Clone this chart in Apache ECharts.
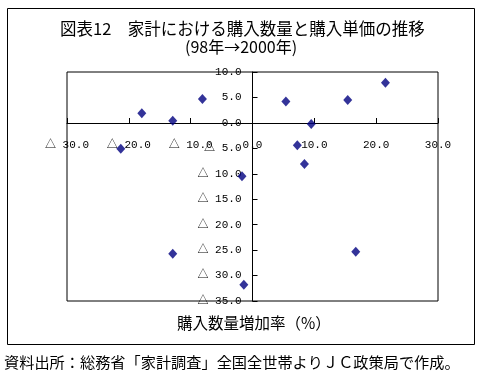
<!DOCTYPE html>
<html>
<head>
<meta charset="utf-8">
<script src="https://cdn.jsdelivr.net/npm/echarts@6/dist/echarts.min.js"></script>
<style>html,body{margin:0;padding:0;background:#fff;}#c{width:489px;height:373px;}</style>
</head>
<body>
<div id="c"></div>
<script>
const titleLine1 = '図表12　家計における購入数量と購入単価の推移';
const titleLine2 = '(98年→2000年)';
const xAxisName = '購入数量増加率（%）';
const footnote = '資料出所：総務省「家計調査」全国全世帯よりＪＣ政策局で作成。';
const quantityGrowth = [-17.9, -12.9, -8.1, 5.4, 9.5, 15.4, 21.5, -21.3, 7.25, 8.4, -1.7, -12.9, 16.7, -1.4];
const priceGrowth    = [1.9, 0.4, 4.7, 4.2, -0.2, 4.5, 7.9, -5.1, -4.4, -8.1, -10.5, -25.7, -25.3, -31.8];

const points = quantityGrowth.map((x, i) => [x, priceGrowth[i]]);
const fmt = v => v < 0 ? '△ ' + Math.abs(v).toFixed(1) : v.toFixed(1);
const labelFont = "'Liberation Mono', 'Noto Sans CJK JP', monospace";
const cjk = "'Noto Sans CJK JP', sans-serif";

const chart = echarts.init(document.getElementById('c'), null, {renderer: 'canvas'});
chart.setOption({
  animation: false,
  backgroundColor: '#fff',
  graphic: [
    {type: 'rect', shape: {x: 7.5, y: 8.5, width: 467, height: 336}, style: {fill: 'none', stroke: '#000', lineWidth: 1}, z: -1},
    {type: 'text', left: 60, top: 20, style: {text: titleLine1, font: '16.5px ' + cjk, fill: '#000'}},
    {type: 'text', left: 185, top: 39, style: {text: titleLine2, font: '16px ' + cjk, fill: '#000'}},
    {type: 'text', left: 177, top: 315, style: {text: xAxisName, font: '15.5px ' + cjk, fill: '#000'}},
    {type: 'text', left: 4, top: 355, style: {text: footnote, font: '15.2px ' + cjk, fill: '#000'}}
  ],
  grid: {left: 67, right: 51, top: 72, bottom: 72, show: true, borderColor: '#000', borderWidth: 1, backgroundColor: 'transparent'},
  xAxis: {
    type: 'value', min: -30, max: 30, interval: 10,
    position: 'bottom', offset: -178,
    axisLine: {onZero: false, lineStyle: {color: '#000', width: 1}},
    axisTick: {show: true, inside: true, length: 5, lineStyle: {color: '#000'}},
    splitLine: {show: false},
    axisLabel: {formatter: fmt, color: '#000', fontFamily: labelFont, fontSize: 11, margin: 17, showMinLabel: true, showMaxLabel: true, hideOverlap: false}
  },
  yAxis: {
    type: 'value', min: -35, max: 10, interval: 5,
    position: 'left', offset: -185.5,
    axisLine: {onZero: false, lineStyle: {color: '#000', width: 1}},
    axisTick: {show: true, inside: true, length: 5, lineStyle: {color: '#000'}},
    splitLine: {show: false},
    axisLabel: {formatter: fmt, color: '#000', fontFamily: labelFont, fontSize: 11, margin: 11, padding: [5, 0, 0, 0], showMinLabel: true, showMaxLabel: true, hideOverlap: false}
  },
  series: [{
    type: 'scatter',
    data: points,
    symbol: 'diamond',
    symbolSize: [9, 10],
    itemStyle: {color: '#000080'}
  }]
});
</script>
</body>
</html>
